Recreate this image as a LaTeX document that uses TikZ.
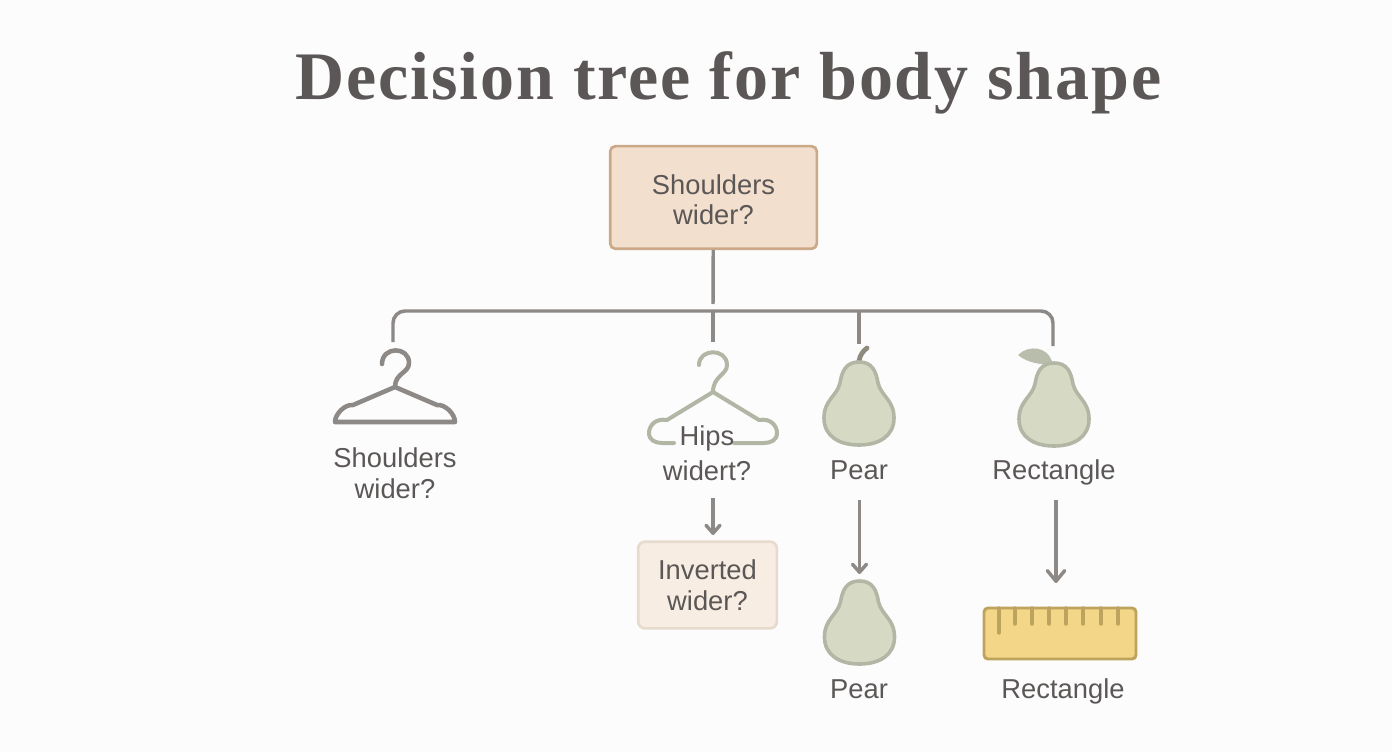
\documentclass[tikz,border=0pt]{standalone}
\usepackage{fontspec}
\setmainfont{Liberation Sans}
\newfontfamily\titlefont[LetterSpace=2.8]{Liberation Serif}
\usetikzlibrary{positioning, arrows.meta}
\definecolor{pagebg}{HTML}{FCFCFC}
\definecolor{ink}{HTML}{5B5756}
\definecolor{wirecol}{HTML}{8D8987}
\definecolor{rootfill}{HTML}{F3DFCE}
\definecolor{rootline}{HTML}{CBA988}
\definecolor{softfill}{HTML}{F7EDE3}
\definecolor{softline}{HTML}{E7DBCE}
\definecolor{pearfill}{HTML}{D6DAC5}
\definecolor{pearline}{HTML}{B2B6A4}
\definecolor{leafcol}{HTML}{B9BDAB}
\definecolor{stemcol}{HTML}{8F8A7E}
\definecolor{rulerfill}{HTML}{F3D687}
\definecolor{rulerline}{HTML}{BDA35E}
\tikzset{
  wire/.style={draw=wirecol, line width=2.6pt},
  arrow/.style={wire, -{Straight Barb[length=8pt, width=13pt, round]}},
  smallarrow/.style={wire, -{Straight Barb[length=6pt, width=10.5pt, round]}},
  label/.style={text=ink, inner sep=0pt, align=center, font=\fontsize{20.5}{23}\selectfont},
  rootbox/.style={label, draw=rootline, fill=rootfill, line width=2pt, rounded corners=4pt,
    minimum width=155pt, minimum height=77pt},
  softbox/.style={label, draw=softline, fill=softfill, line width=2pt, rounded corners=5pt,
    minimum width=104pt, minimum height=65pt},
  pear/.pic={
    \draw[draw=pearline, fill=pearfill, line width=2.7pt]
      (0,0) .. controls (13,0) and (17,9) .. (19,21)
      .. controls (22,34) and (35,38) .. (35,56)
      .. controls (35,74) and (20,83) .. (0,83)
      .. controls (-20,83) and (-35,74) .. (-35,56)
      .. controls (-35,38) and (-22,34) .. (-19,21)
      .. controls (-17,9) and (-13,0) .. (0,0) -- cycle;
  },
  darkhanger/.pic={
    \draw[draw=wirecol, line width=3.4pt, line cap=round, line join=round]
      (-13,14) .. controls (-13,-4) and (14,-4) .. (14,13)
      .. controls (14,23) and (0,23) .. (0,37)
      -- (-42,55) .. controls (-50,54) and (-60,64) .. (-60,72)
      -- (60,72) .. controls (60,64) and (50,54) .. (42,55) -- (0,37);
  },
  lighthanger/.pic={
    \draw[draw=pearline, line width=3pt, line cap=round, line join=round]
      (-14,13) .. controls (-14,-4) and (14,-4) .. (14,13)
      .. controls (14,23) and (0,24) .. (0,40)
      -- (-46,68) .. controls (-58,66) and (-64,74) .. (-64,81)
      .. controls (-64,88) and (-58,91) .. (-51,91) -- (-39,91);
    \draw[draw=pearline, line width=3pt, line cap=round, line join=round]
      (0,40) -- (46,68) .. controls (58,66) and (64,74) .. (64,81)
      .. controls (64,88) and (58,91) .. (51,91) -- (21,91);
  }
}
\begin{document}
\begin{tikzpicture}[x=0.75pt, y=-0.75pt]
    \fill[pagebg] (0,0) rectangle (1392,752);
    % title
    \node[text=ink, inner sep=0pt, anchor=base] (title) at (728.5,100) {\titlefont\fontsize{51}{60}\selectfont\bfseries Decision tree for body shape};
    % boxes and labels
    \node[rootbox] (root) at (713.5,197.5) {\rule{0pt}{18pt}Shoulders\\wider?};
    \node[label] (shoulders) at (395,473) {Shoulders\\wider?};
    \pic at (395,350) {darkhanger};
    \pic at (713,352) {lighthanger};
    \node[label] (hips) at (707,453) {Hips\\[3pt]widert?};
    \node[label] (pearup) at (859,470) {Pear};
    \node[label] (rectup) at (1054,472) {Rectangle};
    \node[softbox] (inverted) at (707.5,585) {Inverted\\wider?};
    \node[label] (peardown) at (859,689) {Pear};
    \node[label] (rectdown) at (1063,691) {Rectangle};
    % pears
    \draw[stemcol, line width=3.6pt, line cap=round] (859,361) .. controls (860,355) and (863,351) .. (867,348);
    \draw[draw=leafcol, fill=leafcol, line width=1pt, line join=round] (1019,355) .. controls (1028,346) and (1048,346) .. (1052,364) .. controls (1040,364) and (1028,362) .. (1019,355) -- cycle;
    \pic at (859,362) {pear};
    \pic at (1054,363) {pear};
    \pic at (859.5,581) {pear};
    % ruler
    \draw[draw=rulerline, fill=rulerfill, line width=2.2pt, rounded corners=3pt] (984,608) rectangle (1136,659);
    \draw[rulerline, line width=2.6pt, line cap=round] (999,608) -- (999,633);
    \foreach \tickx in {1015,1032,1049,1066,1083,1101,1118}
        \draw[rulerline, line width=2.6pt, line cap=round] (\tickx,608) -- (\tickx,624);
    % connectors
    \coordinate (trunkend) at (713,304);
    \coordinate (busmid) at (713,311);
    \coordinate (buspear) at (859,311);
    \coordinate (dropa) at (393,342);
    \coordinate (dropb) at (713,342);
    \coordinate (dropc) at (859,344);
    \coordinate (dropd) at (1053,346);
    \coordinate (invertedin) at (713,535);
    \coordinate (pearin) at (859.5,574);
    \coordinate (rulerin) at (1056,583);
    \draw[wire] (root) -- (trunkend);
    \draw[wire, rounded corners=9pt] (dropa) |- (busmid) -| (dropd);
    \draw[wire] (busmid) -- (dropb);
    \draw[wire] (buspear) -- (dropc);
    \draw[smallarrow, shorten <=13pt] (hips.south -| invertedin) -- (invertedin);
    \draw[smallarrow, shorten <=15.5pt] (pearup.south -| pearin) -- (pearin);
    \draw[arrow, shorten <=11pt] (rectup.south -| rulerin) -- (rulerin);
\end{tikzpicture}
\end{document}
